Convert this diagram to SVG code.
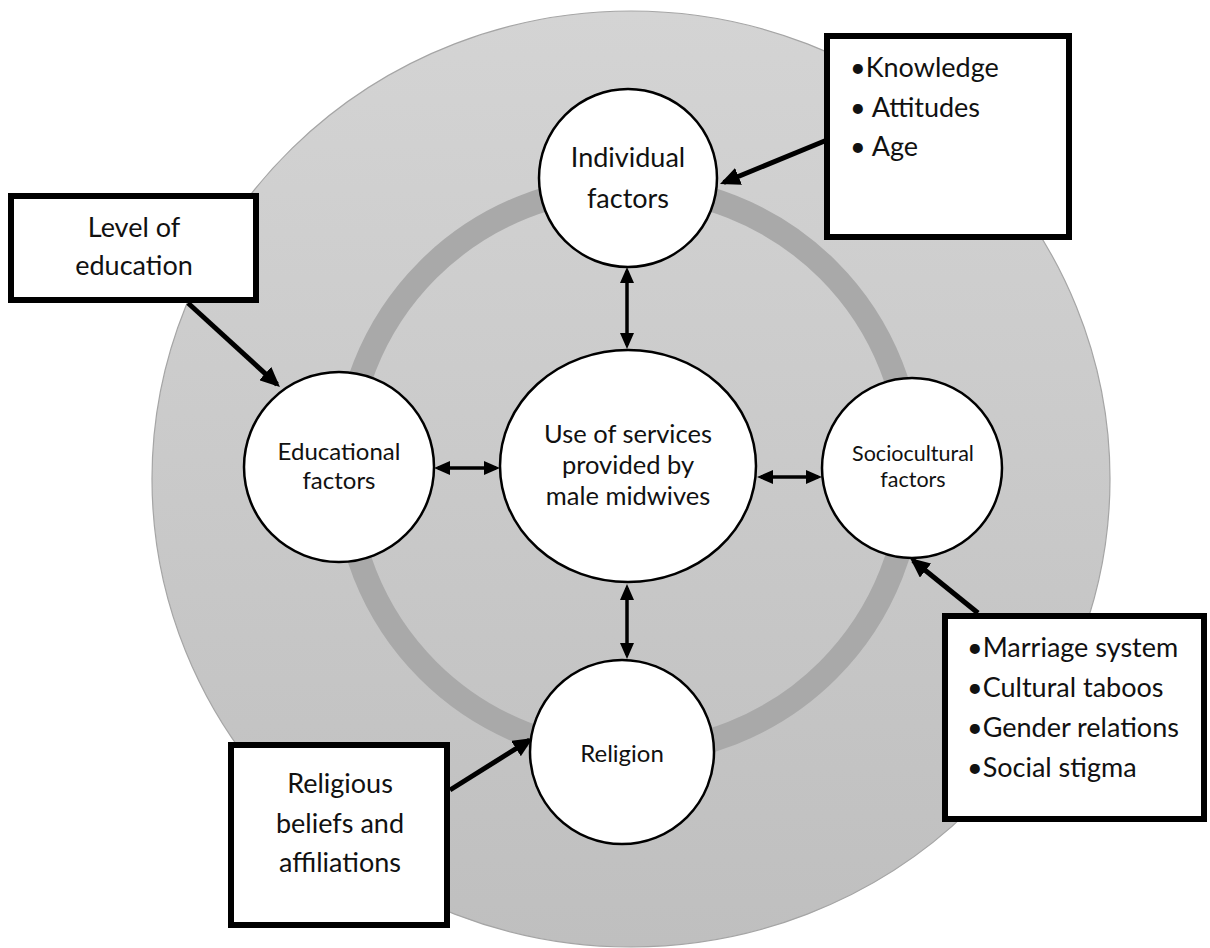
<svg xmlns="http://www.w3.org/2000/svg" width="1210" height="948" viewBox="0 0 1210 948">
<style>
.node{fill:#ffffff;stroke:#000000;stroke-width:2.5}
.box{fill:#ffffff;stroke:#000000;stroke-width:6}
.t{font-family:Lato,"Liberation Sans",sans-serif;fill:#111111;text-anchor:middle}
.c{font-size:24px}
.b{font-size:27px}
.l{text-anchor:start}
.thick{stroke:#000;stroke-width:5;fill:none;marker-end:url(#ah)}
.dbl{stroke:#000;stroke-width:3.5;fill:none;marker-start:url(#dh);marker-end:url(#dh)}
</style>
<defs>
<linearGradient id="bg" x1="0" y1="0" x2="0" y2="1">
<stop offset="0" stop-color="#d4d4d4"/>
<stop offset="1" stop-color="#bfbfbf"/>
</linearGradient>
<marker id="ah" markerUnits="userSpaceOnUse" markerWidth="20" markerHeight="18" refX="16" refY="9" orient="auto">
<path d="M0,0 L20,9 L0,18 z" fill="#000"/>
</marker>
<marker id="dh" markerUnits="userSpaceOnUse" markerWidth="16" markerHeight="14" refX="12" refY="7" orient="auto-start-reverse">
<path d="M0,0 L16,7 L0,14 z" fill="#000"/>
</marker>
</defs>
<g id="background">
<ellipse cx="631" cy="479" rx="479" ry="468" fill="url(#bg)" stroke="#a5a5a5" stroke-width="1.2"/>
<circle cx="628" cy="470" r="283" fill="none" stroke="#a9a9a9" stroke-width="24"/>
</g>
<g id="connectors">
<line class="thick" x1="827" y1="140" x2="723.7" y2="182.5"/>
<line class="thick" x1="188" y1="303" x2="277" y2="384.3"/>
<line class="thick" x1="978" y1="613" x2="913.1" y2="560.5"/>
<line class="thick" x1="450" y1="790" x2="529.6" y2="740.1"/>
<line class="dbl" x1="627" y1="271" x2="627" y2="345"/>
<line class="dbl" x1="627" y1="588" x2="627" y2="655"/>
<line class="dbl" x1="438" y1="468" x2="496" y2="468"/>
<line class="dbl" x1="761" y1="477" x2="818" y2="477"/>
</g>
<g id="center">
<ellipse class="node" cx="628" cy="466" rx="128" ry="116"/>
<text class="t" x="628" y="443" font-size="25.5">Use of services</text>
<text class="t" x="628" y="474" font-size="25.5">provided by</text>
<text class="t" x="628" y="505" font-size="25.5">male midwives</text>
</g>
<g id="individual">
<circle class="node" cx="628" cy="178" r="89"/>
<text class="t" x="628" y="167" font-size="27">Individual</text>
<text class="t" x="628" y="208" font-size="27">factors</text>
</g>
<g id="educational">
<circle class="node" cx="339" cy="467" r="95"/>
<text class="t c" x="339" y="460">Educational</text>
<text class="t c" x="339" y="489">factors</text>
</g>
<g id="sociocultural">
<circle class="node" cx="912" cy="468" r="90"/>
<text class="t" x="913" y="461" font-size="21.5">Sociocultural</text>
<text class="t" x="913" y="487" font-size="21.5">factors</text>
</g>
<g id="religion">
<circle class="node" cx="622" cy="752" r="92"/>
<text class="t c" x="622" y="762">Religion</text>
</g>
<g id="box-individual">
<rect class="box" x="827" y="36" width="242" height="201"/>
<text class="t b l" x="850" y="77">•Knowledge</text>
<text class="t b l" x="850" y="117">• Attitudes</text>
<text class="t b l" x="850" y="156">• Age</text>
</g>
<g id="box-education">
<rect class="box" x="11" y="196" width="245" height="104"/>
<text class="t b" x="134" y="237">Level of</text>
<text class="t b" x="134" y="275">education</text>
</g>
<g id="box-sociocultural">
<rect class="box" x="945" y="616" width="259" height="203"/>
<text class="t b l" x="967" y="657">•Marriage system</text>
<text class="t b l" x="967" y="697">•Cultural taboos</text>
<text class="t b l" x="967" y="737">•Gender relations</text>
<text class="t b l" x="967" y="777">•Social stigma</text>
</g>
<g id="box-religion">
<rect class="box" x="231" y="745" width="216" height="180"/>
<text class="t b" x="340" y="793">Religious</text>
<text class="t b" x="340" y="833">beliefs and</text>
<text class="t b" x="340" y="872">affiliations</text>
</g>
</svg>
